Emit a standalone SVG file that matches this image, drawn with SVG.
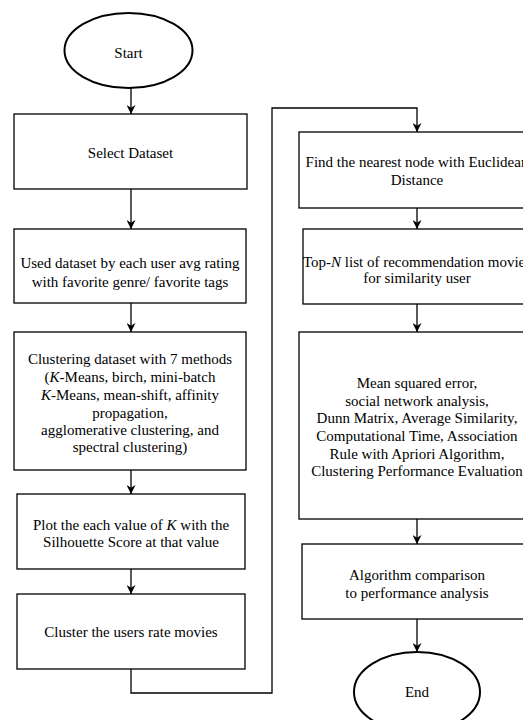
<svg xmlns="http://www.w3.org/2000/svg" width="523" height="720" viewBox="0 0 523 720">
<style>
.box{fill:#fff;stroke:#000;stroke-width:1.3}
.term{fill:#fff;stroke:#000;stroke-width:2}
.t{font-family:"Liberation Serif","Times New Roman",serif;font-size:15px;fill:#000;text-anchor:middle}
.i{font-style:italic}
.c{fill:none;stroke:#000;stroke-width:1.3}
</style>
<defs>
<marker id="a" viewBox="0 0 10 10" refX="10" refY="5" markerWidth="9" markerHeight="9" markerUnits="userSpaceOnUse" orient="auto">
<path d="M0,0 L10,5 L0,10 L3,5 z" fill="#000"/>
</marker>
</defs>
<g id="connectors">
<path class="c" d="M131,88 V114" marker-end="url(#a)"/>
<path class="c" d="M131,189 V229" marker-end="url(#a)"/>
<path class="c" d="M131,303 V332" marker-end="url(#a)"/>
<path class="c" d="M131,470 V494" marker-end="url(#a)"/>
<path class="c" d="M131,569 V594" marker-end="url(#a)"/>
<path class="c" d="M131,669 V693 H272 V108 H417 V132" marker-end="url(#a)"/>
<path class="c" d="M417,208 V229" marker-end="url(#a)"/>
<path class="c" d="M417,304 V332" marker-end="url(#a)"/>
<path class="c" d="M417,519 V544" marker-end="url(#a)"/>
<path class="c" d="M417,619 V652" marker-end="url(#a)"/>
</g>
<g id="start">
<ellipse class="term" cx="128.5" cy="50.5" rx="64" ry="37.5"/>
<text class="t" x="128.5" y="58">Start</text>
</g>
<g id="select">
<rect class="box" x="14" y="114" width="233" height="75"/>
<text class="t" x="130.5" y="158">Select Dataset</text>
</g>
<g id="used">
<rect class="box" x="14" y="229" width="232" height="74"/>
<text class="t" x="130" y="268">Used dataset by each user avg rating</text>
<text class="t" x="130" y="287">with favorite genre/ favorite tags</text>
</g>
<g id="clustering">
<rect class="box" x="14" y="332" width="232" height="138"/>
<text class="t" x="130" y="364">Clustering dataset with 7 methods</text>
<text class="t" x="130" y="382">(<tspan class="i">K</tspan>-Means, birch, mini-batch</text>
<text class="t" x="130" y="400"><tspan class="i">K</tspan>-Means, mean-shift, affinity</text>
<text class="t" x="130" y="418">propagation,</text>
<text class="t" x="130" y="435">agglomerative clustering, and</text>
<text class="t" x="130" y="452">spectral clustering)</text>
</g>
<g id="plot">
<rect class="box" x="17" y="494" width="228" height="75"/>
<text class="t" x="131" y="530">Plot the each value of <tspan class="i">K</tspan> with the</text>
<text class="t" x="131" y="547">Silhouette Score at that value</text>
</g>
<g id="cluster">
<rect class="box" x="17" y="594" width="228" height="75"/>
<text class="t" x="131" y="637">Cluster the users rate movies</text>
</g>
<g id="find">
<rect class="box" x="299" y="132" width="236" height="76"/>
<text class="t" x="417" y="167">Find the nearest node with Euclidean</text>
<text class="t" x="417" y="185">Distance</text>
</g>
<g id="topn">
<rect class="box" x="303" y="229" width="228" height="75"/>
<text class="t" x="417" y="267">Top-<tspan class="i">N</tspan> list of recommendation movies</text>
<text class="t" x="417" y="283">for similarity user</text>
</g>
<g id="metrics">
<rect class="box" x="299" y="332" width="236" height="187"/>
<text class="t" x="417" y="388">Mean squared error,</text>
<text class="t" x="417" y="406">social network analysis,</text>
<text class="t" x="417" y="423">Dunn Matrix, Average Similarity,</text>
<text class="t" x="417" y="441">Computational Time, Association</text>
<text class="t" x="417" y="459">Rule with Apriori Algorithm,</text>
<text class="t" x="417" y="476">Clustering Performance Evaluation</text>
</g>
<g id="compare">
<rect class="box" x="302" y="544" width="230" height="75"/>
<text class="t" x="417" y="580">Algorithm comparison</text>
<text class="t" x="417" y="598">to performance analysis</text>
</g>
<g id="end">
<ellipse class="term" cx="417" cy="692" rx="63" ry="40"/>
<text class="t" x="417" y="697">End</text>
</g>
</svg>
